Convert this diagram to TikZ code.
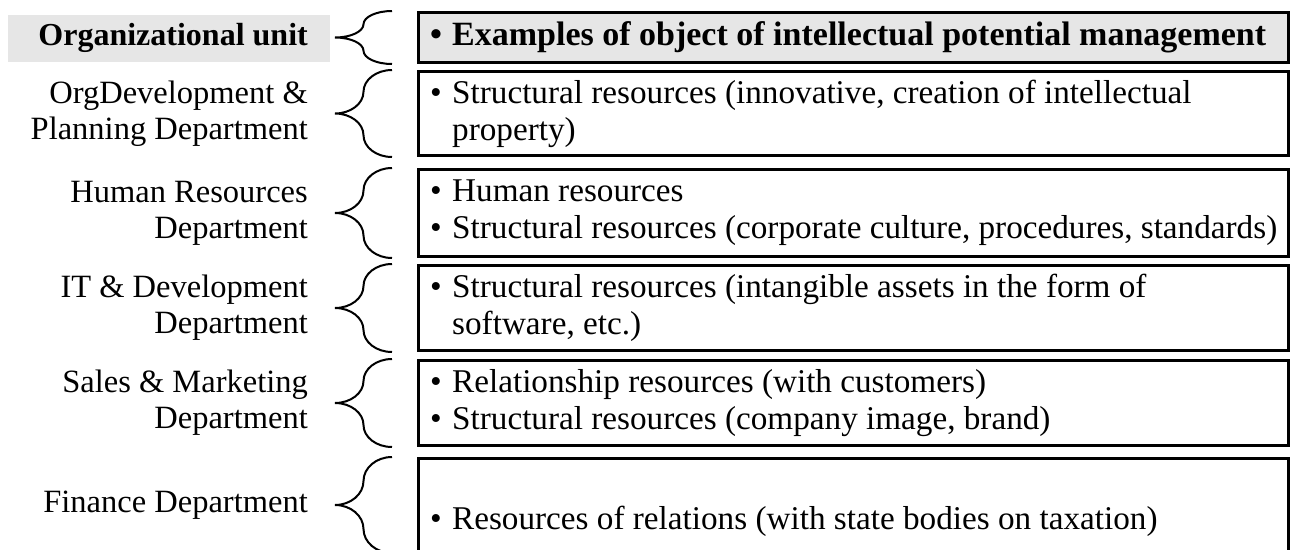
\documentclass[tikz,border=0pt]{standalone}
\usepackage{fontspec}
\setmainfont{Liberation Serif}
\usetikzlibrary{calc}
\definecolor{hdrgray}{RGB}{230,230,230}
% bullet and hanging indent for wrapped lines
\newcommand{\bul}{\makebox[22pt][l]{\textbullet}}
\newcommand{\hang}{\hspace*{22pt}}

\begin{document}
\begin{tikzpicture}[x=1pt,y=-1pt,
  rowbox/.style={draw=black, line width=3pt, anchor=north west, minimum width=870pt, inner sep=0pt},
  boxtext/.style={anchor=west, inner sep=0pt, align=left,
                  font=\fontsize{33.2}{37}\selectfont},
  unitlabel/.style={anchor=east, inner sep=0pt, align=right,
                    font=\fontsize{32.5}{36}\selectfont},
  brace/.style={line width=2pt},
]
\useasboundingbox (0,0) rectangle (1295,549);
\clip (0,0) rectangle (1295,549);

% reference column for the labels
\coordinate (lx) at (308,0);

% right-hand boxes
\node[rowbox, fill=hdrgray, minimum height=50pt] (b1) at (417,11) {};
\node[rowbox, minimum height=84pt] (b2) at (417,70) {};
\node[rowbox, minimum height=87pt] (b3) at (417,168) {};
\node[rowbox, minimum height=85pt] (b4) at (417,264) {};
\node[rowbox, minimum height=85pt] (b5) at (417,359) {};
\node[rowbox, minimum height=93pt] (b6) at (417,457) {};

% box contents
\node[boxtext, font=\fontsize{34}{37}\selectfont\bfseries] (t1) at ($(b1.west)+(13,0)$)
  {\bul Examples of object of intellectual potential management};
\node[boxtext] (t2) at ($(b2.west)+(13,0)$)
  {\bul Structural resources (innovative, creation of intellectual\\\hang property)};
\node[boxtext] (t3) at ($(b3.west)+(13,0)$)
  {\bul Human resources\\\bul Structural resources (corporate culture, procedures, standards)};
\node[boxtext] (t4) at ($(b4.west)+(13,0)$)
  {\bul Structural resources (intangible assets in the form of\\\hang software, etc.)};
\node[boxtext] (t5) at ($(b5.west)+(13,0)$)
  {\bul Relationship resources (with customers)\\\bul Structural resources (company image, brand)};
\node[boxtext] (t6) at ($(b6.west)+(13,16)$)
  {\bul Resources of relations (with state bodies on taxation)};

% left-hand unit labels
\fill[hdrgray] (8,15) rectangle (330,62);
\node[unitlabel, font=\fontsize{32}{36}\selectfont\bfseries] (u1) at (b1.west -| lx) {Organizational unit};
\node[unitlabel] (u2) at (b2.west -| lx) {OrgDevelopment \&\\Planning Department};
\node[unitlabel] (u3) at (b3.west -| lx) {Human Resources\\Department};
\node[unitlabel] (u4) at (b4.west -| lx) {IT \& Development\\Department};
\node[unitlabel] (u5) at (b5.west -| lx) {Sales \& Marketing\\Department};
\node[unitlabel] (u6) at (b6.west -| lx) {Finance Department};

% curly braces joining each label to its box
\foreach \b in {b1,b2,b3,b4,b5,b6}{
  \draw[brace] let \p1=([xshift=-25pt]\b.north west),
                   \p2=([xshift=-25pt]\b.south west),
                   \n1={(\y1-\y2)/4}, \n2={0.552*(\y1-\y2)/4} in
    (\p1) .. controls (\x1-15.7pt,\y1) and (\x1-28.5pt,{\y1-\n1*1pt+\n2*1pt})
          .. (\x1-28.5pt,{\y1-\n1*1pt})
          .. controls (\x1-28.5pt,{\y1-\n1*1pt-\n2*1pt}) and (\x1-41.3pt,{\y1-2*\n1*1pt})
          .. (\x1-57pt,{\y1-2*\n1*1pt})
          .. controls (\x1-41.3pt,{\y1-2*\n1*1pt}) and (\x1-28.5pt,{\y1-3*\n1*1pt+\n2*1pt})
          .. (\x1-28.5pt,{\y1-3*\n1*1pt})
          .. controls (\x1-28.5pt,{\y1-3*\n1*1pt-\n2*1pt}) and (\x1-15.7pt,\y2)
          .. (\p2);
}
\end{tikzpicture}
\end{document}
